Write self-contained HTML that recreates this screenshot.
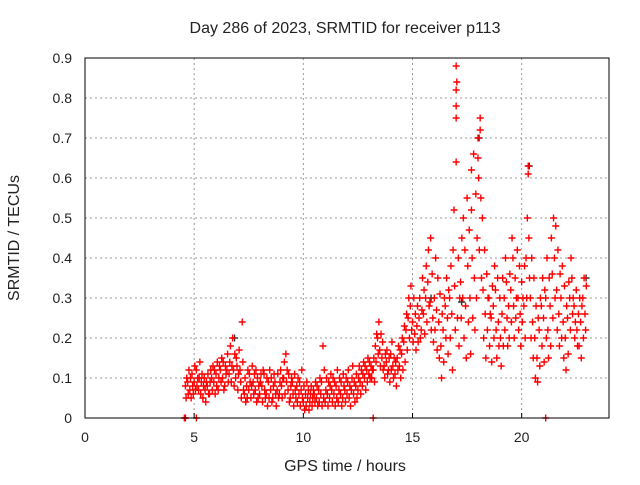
<!DOCTYPE html>
<html><head><meta charset="utf-8"><style>
body{margin:0;background:#fff;}
svg text{font-family:"Liberation Sans",sans-serif;font-size:14px;fill:#222;}
svg text.big{font-size:16px;}
</style></head><body>
<svg id="chart" width="640" height="480" xmlns="http://www.w3.org/2000/svg">
<rect width="640" height="480" fill="#fff"/>
<text class="big" x="345" y="33" text-anchor="middle">Day 286 of 2023, SRMTID for receiver p113</text>
<text class="big" x="345" y="471" text-anchor="middle">GPS time / hours</text>
<text class="big" x="19" y="238" text-anchor="middle" transform="rotate(-90 19 238)">SRMTID / TECUs</text>
<g id="grid"></g><g id="marks"></g>
<rect x="85" y="58" width="524" height="360" fill="none" stroke="#000" stroke-width="1"/>
<g id="ticks"></g>
</svg>
<script>
const xTicks=[0,5,10,15,20];
const yTicks=[0,0.1,0.2,0.3,0.4,0.5,0.6,0.7,0.8,0.9];
const yTickLabels=["0","0.1","0.2","0.3","0.4","0.5","0.6","0.7","0.8","0.9"];
const times=[4.6,4.7,4.8,4.9,5.0,5.1,5.2,5.3,5.4,5.5,5.6,5.7,5.8,5.9,6.0,6.1,6.2,6.3,6.4,6.5,6.6,6.7,6.8,6.9,7.0,7.1,7.2,7.3,7.4,7.5,7.6,7.7,7.8,7.9,8.0,8.1,8.2,8.3,8.4,8.5,8.6,8.7,8.8,8.9,9.0,9.1,9.2,9.3,9.4,9.5,9.6,9.7,9.8,9.9,10.0,10.1,10.2,10.3,10.4,10.5,10.6,10.7,10.8,10.9,11.0,11.1,11.2,11.3,11.4,11.5,11.6,11.7,11.8,11.9,12.0,12.1,12.2,12.3,12.4,12.5,12.6,12.7,12.8,12.9,13.0,13.1,13.2,13.3,13.4,13.5,13.6,13.7,13.8,13.9,14.0,14.1,14.2,14.3,14.4,14.5,14.6,14.7,14.8,14.9,15.0,15.1,15.2,15.3,15.4,15.5,15.6,15.7,15.8,15.9,16.0,16.1,16.2,16.3,16.4,16.5,16.6,16.7,16.8,16.9,17.0,17.1,17.2,17.3,17.4,17.5,17.6,17.7,17.8,17.9,18.0,18.1,18.2,18.3,18.4,18.5,18.6,18.7,18.8,18.9,19.0,19.1,19.2,19.3,19.4,19.5,19.6,19.7,19.8,19.9,20.0,20.1,20.2,20.3,20.4,20.5,20.6,20.7,20.8,20.9,21.0,21.1,21.2,21.3,21.4,21.5,21.6,21.7,21.8,21.9,22.0,22.1,22.2,22.3,22.4,22.5,22.6,22.7,22.8,22.9];
const values=[[.08,.05,.10],[.09,.06,.12],[.07,.10,.05],[.11,.08,.06],[.09,.13,.07],[.12,.08,.10],[.07,.10,.14],[.06,.09,.11],[.05,.08,.10],[.07,.04,.09],[.08,.11,.06],[.06,.09,.12],[.10,.07,.13],[.09,.12,.06],[.11,.08,.14],[.07,.10,.13],[.12,.09,.15],[.10,.14,.07],[.08,.13,.11],[.12,.16,.09],[.11,.14,.18],[.09,.13,.20],[.12,.08,.16],[.10,.15,.13],[.07,.11,.17],[.12,.09,.05],[.24,.14,.07],[.06,.10,.04],[.08,.05,.12],[.07,.11,.09],[.05,.08,.13],[.09,.06,.11],[.07,.12,.04],[.10,.05,.08],[.06,.09,.11],[.08,.04,.12],[.11,.07,.05],[.06,.10,.03],[.09,.05,.12],[.07,.10,.04],[.05,.08,.11],[.09,.06,.03],[.07,.11,.05],[.06,.09,.12],[.08,.05,.10],[.10,.14,.06],[.16,.09,.12],[.07,.11,.04],[.05,.08,.10],[.09,.06,.03],[.11,.07,.05],[.08,.04,.10],[.06,.09,.03],[.07,.12,.05],[.04,.08,.02],[.06,.03,.09],[.05,.07,.02],[.04,.06,.08],[.03,.05,.07],[.06,.04,.09],[.05,.08,.03],[.07,.04,.10],[.06,.09,.03],[.18,.05,.12],[.04,.07,.10],[.06,.03,.09],[.05,.08,.11],[.07,.04,.10],[.06,.09,.03],[.08,.05,.12],[.04,.07,.10],[.06,.09,.03],[.05,.11,.08],[.07,.04,.10],[.06,.09,.12],[.05,.08,.03],[.07,.10,.13],[.06,.09,.04],[.08,.11,.05],[.07,.10,.13],[.09,.06,.12],[.08,.11,.14],[.10,.13,.07],[.12,.09,.15],[.11,.14,.10],[.13,.10,.12],[.12,.15,.09],[.18,.14,.21],[.20,.16,.24],[.17,.13,.21],[.15,.19,.12],[.13,.10,.16],[.14,.17,.11],[.12,.15,.09],[.16,.12,.19],[.13,.10,.15],[.11,.14,.08],[.15,.12,.18],[.13,.17,.10],[.16,.20,.12],[.19,.23,.14],[.22,.26,.17],[.25,.30,.20],[.28,.33,.22],[.24,.19,.30],[.21,.26,.17],[.23,.28,.19],[.25,.30,.20],[.22,.27,.35],[.26,.32,.21],[.30,.38,.24],[.34,.42,.28],[.29,.45,.22],[.36,.25,.19],[.30,.22,.40],[.27,.17,.35],[.24,.15,.31],[.18,.10,.26],[.22,.14,.30],[.28,.20,.35],[.25,.16,.32],[.30,.20,.38],[.26,.12,.42],[.52,.33,.22],[.64,.84,.25],[.40,.18,.30],[.34,.25,.45],[.30,.50,.20],[.42,.28,.15],[.55,.38,.24],[.47,.30,.16],[.62,.40,.25],[.66,.35,.22],[.56,.30,.45],[.70,.60,.42],[.75,.55,.35],[.50,.32,.20],[.42,.26,.15],[.36,.22,.30],[.30,.18,.26],[.25,.14,.33],[.28,.20,.38],[.32,.22,.15],[.35,.24,.18],[.30,.20,.13],[.26,.35,.18],[.30,.22,.40],[.34,.25,.18],[.28,.20,.36],[.32,.24,.45],[.40,.28,.20],[.35,.25,.30],[.42,.30,.22],[.38,.26,.18],[.34,.24,.30],[.28,.38,.20],[.40,.30,.50],[.63,.45,.35],[.30,.20,.40],[.24,.15,.35],[.20,.10,.28],[.15,.09,.25],[.22,.13,.30],[.28,.18,.35],[.25,.14,.32],[.30,.20,.40],[.22,.15,.35],[.28,.18,.45],[.36,.25,.50],[.40,.30,.48],[.32,.22,.42],[.26,.18,.36],[.30,.20,.38],[.24,.15,.33],[.20,.12,.28],[.25,.16,.34],[.30,.22,.40],[.35,.26,.30],[.28,.20,.24],[.32,.22,.18],[.26,.18,.30],[.24,.15,.28],[.30,.20,.35],[.26,.22,.33]];
const extraTimes=[4.55,4.6,5.1,13.2,21.1,17.0,17.0,17.0,17.0,18.1,20.3,17.7,18.0];
const extraValues=[0,0,0,0,0,0.88,0.78,0.75,0.82,0.72,0.61,0.52,0.65];
const grayTimes=[6.8,17.2,18.0,20.3,22.9,15.8];
const grayValues=[0.20,0.29,0.70,0.63,0.35,0.30];
const X=t=>85+t*524/24, Y=v=>418-v*400;
const NS="http://www.w3.org/2000/svg";
const grid=document.getElementById('grid'),ticks=document.getElementById('ticks'),marks=document.getElementById('marks');
function mk(tag,at,parent){const e=document.createElementNS(NS,tag);for(const k in at)e.setAttribute(k,at[k]);parent.appendChild(e);return e;}
xTicks.forEach(t=>{
 if(t>0){const g=mk('line',{x1:X(t),x2:X(t),y1:58,y2:418,stroke:'#999','stroke-dasharray':'2,3'},grid);
 
 }
 const tk=mk('line',{x1:X(t),x2:X(t),y1:418,y2:413,stroke:'#000'},ticks);
 
 
 const l=mk('text',{x:X(t),y:442,'text-anchor':'middle'},ticks);l.textContent=t;
 
 
});
yTicks.forEach((v,i)=>{
 if(v>0&&v<0.9){const g=mk('line',{x1:85,x2:609,y1:Y(v),y2:Y(v),stroke:'#999','stroke-dasharray':'2,3'},grid);
 
 }
 const l=mk('text',{x:72,y:Y(v)+5,'text-anchor':'end'},ticks);l.textContent=yTickLabels[i];
 
 
});
function plus(t,v,col){
 const x=X(t),y=Y(v);
 const p=mk('path',{d:`M${x-3.5},${y}H${x+3.5}M${x},${y-3.5}V${y+3.5}`,stroke:col,'stroke-width':1.4,fill:'none'},marks);
 
 
}
grayTimes.forEach((t,i)=>plus(t+0.05,grayValues[i],'#333'));
times.forEach((t,i)=>values[i].forEach((v,j)=>plus(t+j*0.03,v,'#f00')));
extraTimes.forEach((t,i)=>plus(t,extraValues[i],'#f00'));
</script>
</body></html>
